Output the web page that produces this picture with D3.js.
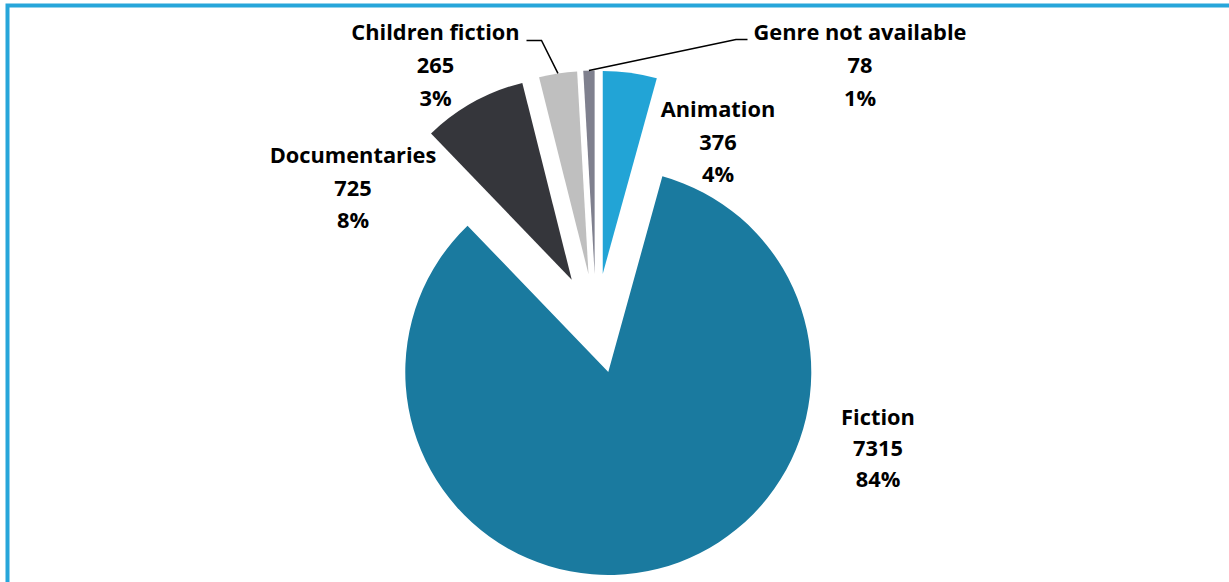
<!DOCTYPE html>
<html>
<head>
<meta charset="utf-8">
<script src="https://cdn.jsdelivr.net/npm/d3@7/dist/d3.min.js"></script>
<style>
  html, body { margin: 0; padding: 0; background: #fff; }
  svg { display: block; }
  text { font-family: "Open Sans", "Lato", sans-serif; font-weight: 700; fill: #000; font-variant-ligatures: none; }
</style>
</head>
<body>
<svg id="chart" width="1229" height="582"></svg>
<script>
// ---- data ----
const categories = ["Animation", "Fiction", "Documentaries", "Children fiction", "Genre not available"];
const counts = [376, 7315, 725, 265, 78];
const colors = ["#22A4D6", "#1A7A9F", "#35363B", "#BFBFBF", "#7F808E"];

// ---- layout (not data) ----
const W = 1229, H = 582;
const cx = 596, cy = 323.5, R = 203, explode = 50;
const fontSize = 21.8;
const labelPos = [
  { x: 718, y: 117, dy: 32.5 },
  { x: 878, y: 425, dy: 31 },
  { x: 353, y: 163, dy: 32.5 },
  { x: 435.5, y: 40, dy: 33 },
  { x: 860, y: 40, dy: 33 }
];
// leader lines: label end x, elbow x, y
const leaders = {
  3: { x0: 526.5, x1: 541.5, y: 40.5 },
  4: { x0: 747.5, x1: 736, y: 39.5 }
};

const svg = d3.select("#chart");

// frame
svg.append("rect")
  .attr("x", 7.5).attr("y", 5.5)
  .attr("width", W + 20).attr("height", H + 20)
  .attr("fill", "none")
  .attr("stroke", "#27A6DA")
  .attr("stroke-width", 4);

const total = d3.sum(counts);
const pie = d3.pie().sort(null).value(d => d).startAngle(0).endAngle(2 * Math.PI);
const arcs = pie(counts);
const arc = d3.arc().innerRadius(0).outerRadius(R);
const pct = d3.format(".0%");

const g = svg.append("g").attr("transform", `translate(${cx},${cy})`);

function offset(d) {
  const a = (d.startAngle + d.endAngle) / 2;
  return [explode * Math.sin(a), -explode * Math.cos(a)];
}

g.selectAll("path.slice")
  .data(arcs)
  .join("path")
  .attr("class", "slice")
  .attr("d", arc)
  .attr("fill", (d, i) => colors[i])
  .attr("transform", d => { const o = offset(d); return `translate(${o[0]},${o[1]})`; });

// leader lines
arcs.forEach((d, i) => {
  const L = leaders[i];
  if (!L) return;
  const a = (d.startAngle + d.endAngle) / 2;
  const px = cx + (R + explode) * Math.sin(a);
  const py = cy - (R + explode) * Math.cos(a);
  svg.append("polyline")
    .attr("points", `${L.x0},${L.y} ${L.x1},${L.y} ${px},${py}`)
    .attr("fill", "none")
    .attr("stroke", "#000")
    .attr("stroke-width", 1.5);
});

// labels
arcs.forEach((d, i) => {
  const p = labelPos[i];
  const t = svg.append("text")
    .attr("text-anchor", "middle")
    .attr("font-size", fontSize);
  const lines = [categories[i], String(counts[i]), pct(counts[i] / total)];
  lines.forEach((s, k) => {
    t.append("tspan").attr("x", p.x).attr("y", p.y + k * p.dy).text(s);
  });
});
</script>
</body>
</html>
